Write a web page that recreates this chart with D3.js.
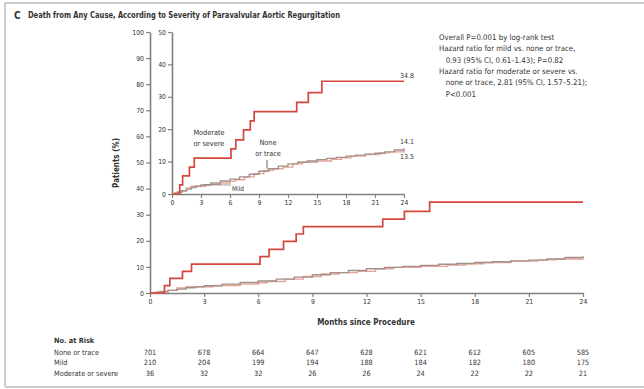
<!DOCTYPE html>
<html>
<head>
<meta charset="utf-8">
<script src="https://cdn.jsdelivr.net/npm/d3@7"></script>
<style>
  html, body { margin: 0; padding: 0; background: #fff; }
  svg { display: block; }
  text { font-family: "Liberation Sans Narrow", "Arial Narrow", "DejaVu Sans Condensed", sans-serif; fill: #333; }
</style>
</head>
<body>
<svg id="chart" width="644" height="389"></svg>
<script>
// Kaplan-Meier death estimates (%) by severity of paravalvular aortic regurgitation
const noneTimes = [0,0.3,0.6,1,1.5,2,2.5,3,4,5,6,7,8,9,10,11,12,13,14,15,16,17,18,19,20,21,22,23,24];
const nonePct   = [0,0.3,0.6,1.0,1.5,2.0,2.4,2.8,3.4,4.0,4.6,5.3,6.1,7.0,7.8,8.6,9.3,9.8,10.2,10.6,11.0,11.3,11.7,12.0,12.3,12.6,13.0,13.6,14.1];

const mildTimes = [0,0.5,1,1.5,2,3.5,5,6,6.5,7.5,8.5,9.5,10.5,11.5,12.5,13.5,15,16.5,17.5,18.5,20,21.5,22.5,24];
const mildPct   = [0,0.5,1.0,1.9,2.4,2.9,3.4,3.9,4.4,5.3,6.3,7.3,7.8,8.3,9.3,9.8,10.2,10.7,11.2,11.7,12.2,12.7,13.0,13.5];

const modTimes = [0,0.8,1.1,1.8,2.3,6.1,6.6,7.4,8.1,8.5,12.9,14.1,15.5,24];
const modPct   = [0,2.8,5.6,8.3,11.1,13.9,16.7,19.8,22.6,25.4,28.3,31.3,34.8,34.8];

// Axis ticks
const monthTicks = [0,3,6,9,12,15,18,21,24];
const mainPctTicks = [0,10,20,30,40,50,60,70,80,90,100];
const insetPctTicks = [0,10,20,30,40,50];

// Number at risk
const riskGroups = ["None or trace", "Mild", "Moderate or severe"];
const riskNone = [701,678,664,647,628,621,612,605,585];
const riskMild = [210,204,199,194,188,184,182,180,175];
const riskMod  = [36,32,32,26,26,24,22,22,21];

const statsLines = [
  "Overall P=0.001 by log-rank test",
  "Hazard ratio for mild vs. none or trace,",
  "   0.93 (95% CI, 0.61\u20131.43); P=0.82",
  "Hazard ratio for moderate or severe vs.",
  "   none or trace, 2.81 (95% CI, 1.57\u20135.21);",
  "   P<0.001"
];

const colNone = "#a39189";
const colMild = "#e7a396";
const colMod  = "#d4473d";
const axisCol = "#808080";

const svg = d3.select("#chart");

// panel frame
svg.append("line").attr("x1", 5).attr("x2", 644).attr("y1", 3).attr("y2", 3)
  .attr("stroke", "#cfcfcf").attr("stroke-width", 2);
svg.append("line").attr("x1", 5).attr("x2", 5).attr("y1", 2).attr("y2", 387)
  .attr("stroke", "#cfcfcf").attr("stroke-width", 2);
svg.append("line").attr("x1", 5).attr("x2", 644).attr("y1", 387).attr("y2", 387)
  .attr("stroke", "#cfcfcf").attr("stroke-width", 2);

// panel title
svg.append("text").attr("x", 14).attr("y", 19).attr("font-size", 10).attr("font-weight", "bold")
  .text("C");
svg.append("text").attr("x", 28).attr("y", 18).attr("font-size", 8.3).attr("font-weight", "bold")
  .attr("textLength", 312).attr("lengthAdjust", "spacingAndGlyphs")
  .text("Death from Any Cause, According to Severity of Paravalvular Aortic Regurgitation");

// ---- main plot ----
const x = d3.scaleLinear().domain([0, 24]).range([150, 583]);
const y = d3.scaleLinear().domain([0, 100]).range([293, 32]);

function styleAxis(g) {
  g.selectAll(".domain").attr("stroke", axisCol).attr("stroke-width", 1.6);
  g.selectAll(".tick line").attr("stroke", axisCol).attr("stroke-width", 1.2);
  g.selectAll(".tick text").attr("font-size", 6.8).attr("fill", "#444")
    .attr("font-family", "\"Liberation Sans Narrow\", \"DejaVu Sans Condensed\", sans-serif");
}

svg.append("g").attr("transform", "translate(0,293)")
  .call(d3.axisBottom(x).tickValues(monthTicks).tickSize(4).tickPadding(2).tickSizeOuter(0))
  .call(styleAxis);
svg.append("g").attr("transform", "translate(150,0)")
  .call(d3.axisLeft(y).tickValues(mainPctTicks).tickSize(4).tickPadding(2).tickSizeOuter(0))
  .call(styleAxis);

svg.append("text").attr("transform", "translate(119,163) rotate(-90)")
  .attr("text-anchor", "middle").attr("font-size", 8).attr("font-weight", "bold")
  .text("Patients (%)");
svg.append("text").attr("x", 366).attr("y", 325).attr("text-anchor", "middle")
  .attr("font-size", 8).attr("font-weight", "bold").text("Months since Procedure");

function km(sx, sy, times, pcts) {
  return d3.line().x(d => sx(d[0])).y(d => sy(d[1])).curve(d3.curveStepAfter)(d3.zip(times, pcts));
}

const series = [
  { t: mildTimes, p: mildPct, c: colMild, w: 1.4 },
  { t: noneTimes, p: nonePct, c: colNone, w: 1.4 },
  { t: modTimes,  p: modPct,  c: colMod,  w: 1.7 }
];

const mainG = svg.append("g");
series.forEach(s => {
  mainG.append("path").attr("d", km(x, y, s.t, s.p)).attr("fill", "none")
    .attr("stroke", s.c).attr("stroke-width", s.w);
});

// ---- inset (0-50%) ----
const xi = d3.scaleLinear().domain([0, 24]).range([172, 404]);
const yi = d3.scaleLinear().domain([0, 50]).range([194, 32]);

svg.append("g").attr("transform", "translate(0,194)")
  .call(d3.axisBottom(xi).tickValues(monthTicks).tickSize(4).tickPadding(2).tickSizeOuter(0))
  .call(styleAxis);
svg.append("g").attr("transform", "translate(172,0)")
  .call(d3.axisLeft(yi).tickValues(insetPctTicks).tickSize(4).tickPadding(2).tickSizeOuter(0))
  .call(styleAxis);

const insetG = svg.append("g");
series.forEach(s => {
  insetG.append("path").attr("d", km(xi, yi, s.t, s.p)).attr("fill", "none")
    .attr("stroke", s.c).attr("stroke-width", s.w);
});

// inset labels
const fmt = d3.format(".1f");
const lab = (tx, ty, txt, size, anchor) => svg.append("text").attr("x", tx).attr("y", ty)
  .attr("font-size", size).attr("text-anchor", anchor || "start").attr("fill", "#444").text(txt);

lab(xi(24) + 10, yi(modPct[modPct.length - 1]) - 3, fmt(modPct[modPct.length - 1]), 7, "end");
lab(xi(24) + 10, yi(nonePct[nonePct.length - 1]) - 4, fmt(nonePct[nonePct.length - 1]), 7, "end");
lab(xi(24) + 10, yi(mildPct[mildPct.length - 1]) + 9, fmt(mildPct[mildPct.length - 1]), 7, "end");

lab(209, 135, "Moderate", 7.3, "middle");
lab(209, 146, "or severe", 7.3, "middle");
lab(268, 145, "None", 7.3, "middle");
lab(268, 156, "or trace", 7.3, "middle");
svg.append("line").attr("x1", 267).attr("x2", 267).attr("y1", 160).attr("y2", yi(7.8))
  .attr("stroke", "#555").attr("stroke-width", 0.9);
lab(238, 191, "Mild", 6.5, "middle");
svg.append("line").attr("x1", xi(3.3)).attr("x2", 231).attr("y1", yi(2.9)).attr("y2", 185)
  .attr("stroke", "#888").attr("stroke-width", 0.8);

// statistics block
statsLines.forEach((s, i) => {
  svg.append("text").attr("x", 439).attr("y", 40 + i * 11.3).attr("font-size", 7.8)
    .attr("fill", "#444").attr("xml:space", "preserve").text(s);
});

// ---- number at risk ----
svg.append("text").attr("x", 54).attr("y", 343).attr("font-size", 7.3).attr("font-weight", "bold")
  .text("No. at Risk");
const riskRows = [riskNone, riskMild, riskMod];
riskGroups.forEach((g, i) => {
  const ry = 355 + i * 10.3;
  svg.append("text").attr("x", 54).attr("y", ry).attr("font-size", 7.3).attr("fill", "#444").text(g);
  riskRows[i].forEach((v, j) => {
    svg.append("text").attr("x", x(monthTicks[j])).attr("y", ry).attr("text-anchor", "middle")
      .attr("font-size", 7.3).attr("fill", "#444").text(v);
  });
});
</script>
</body>
</html>
